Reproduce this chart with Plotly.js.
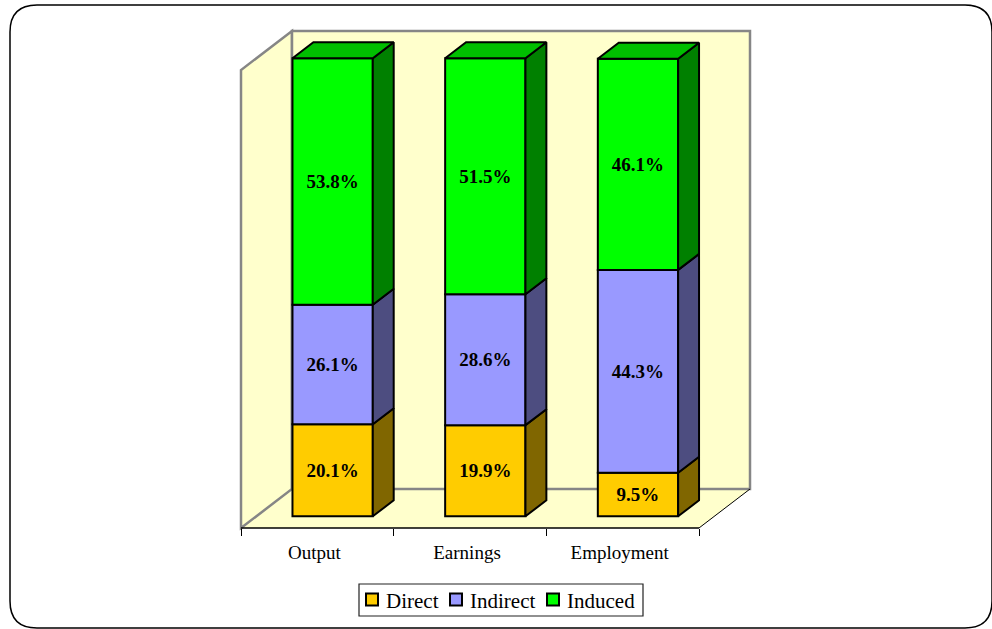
<!DOCTYPE html>
<html><head><meta charset="utf-8">
<style>html,body{margin:0;padding:0;background:#fff}#c{width:992px;height:629px}</style>
<script src="https://cdn.plot.ly/plotly-3.0.1.min.js"></script>
</head><body><div id="c"></div>
<script>
const categories = ['Output', 'Earnings', 'Employment'];
const seriesNames = ['Direct', 'Indirect', 'Induced'];
const direct = [20.1, 19.9, 9.5];
const indirect = [26.1, 28.6, 44.3];
const induced = [53.8, 51.5, 46.1];
const frontColors = ['#FFCC00', '#9999FF', '#00FF00'];
const sideColors = ['#806600', '#4D4D80', '#008000'];
const topColor = '#00BF00';

const W = 992, H = 629;
const L = 241, R = 750, T = 31, B = 528;
const xUnit = 152.67, yUnit = 4.58;      // px per category, px per percent
const DX = 51 / xUnit, DY = 39 / yUnit;  // full depth of the oblique projection, in axis units
const d0 = 0.30, d1 = 0.71, barW = 0.526;
const font = 'Liberation Serif, Times New Roman, serif';

const centres = categories.map((_, i) => i + 0.5);
const series = [direct, indirect, induced];
const traces = [];
const cum = categories.map(() => 0);

series.forEach((vals, s) => {
  const bases = vals.map((v, i) => cum[i]);
  traces.push({
    type: 'bar', name: seriesNames[s], showlegend: false, hoverinfo: 'skip',
    x: centres.map(c => c + d0 * DX),
    y: vals, base: bases.map(b => b + d0 * DY), width: barW,
    marker: {color: frontColors[s], line: {color: '#000', width: 2}},
    text: vals.map(v => v.toFixed(1) + '%'),
    textposition: 'inside', insidetextanchor: 'middle', textangle: 0,
    insidetextfont: {family: font, size: 19, color: '#000', weight: 'bold'}
  });
  vals.forEach((v, i) => {
    const xr = centres[i] + barW / 2;
    const b = bases[i], t = b + v;
    traces.push({
      type: 'scatter', mode: 'lines', showlegend: false, hoverinfo: 'skip', cliponaxis: false,
      x: [xr + d0 * DX, xr + d1 * DX, xr + d1 * DX, xr + d0 * DX, xr + d0 * DX],
      y: [b + d0 * DY, b + d1 * DY, t + d1 * DY, t + d0 * DY, b + d0 * DY],
      fill: 'toself', fillcolor: sideColors[s],
      line: {color: '#000', width: 2}
    });
    cum[i] += v;
  });
});
// top faces of the stacks
categories.forEach((_, i) => {
  const xl = centres[i] - barW / 2, xr = centres[i] + barW / 2, t = cum[i];
  traces.push({
    type: 'scatter', mode: 'lines', showlegend: false, hoverinfo: 'skip', cliponaxis: false,
    x: [xl + d0 * DX, xl + d1 * DX, xr + d1 * DX, xr + d0 * DX, xl + d0 * DX],
    y: [t + d0 * DY, t + d1 * DY, t + d1 * DY, t + d0 * DY, t + d0 * DY],
    fill: 'toself', fillcolor: topColor,
    line: {color: '#000', width: 2}
  });
});

// page pixels -> paper coordinates
const px = x => (x - L) / (R - L);
const py = y => (B - y) / (B - T);
const poly = pts => 'M' + pts.map(p => px(p[0]) + ',' + py(p[1])).join(' L') + ' Z';
const paper = {xref: 'paper', yref: 'paper', layer: 'below'};
const wallFill = '#FFFFCC', wallLine = {color: '#868686', width: 2.5};

function rounded(x0, y0, x1, y1, r) {
  const P = (x, y) => px(x) + ',' + py(y);
  return 'M' + P(x0 + r, y0) + ' L' + P(x1 - r, y0) + ' Q' + P(x1, y0) + ' ' + P(x1, y0 + r) +
    ' L' + P(x1, y1 - r) + ' Q' + P(x1, y1) + ' ' + P(x1 - r, y1) +
    ' L' + P(x0 + r, y1) + ' Q' + P(x0, y1) + ' ' + P(x0, y1 - r) +
    ' L' + P(x0, y0 + r) + ' Q' + P(x0, y0) + ' ' + P(x0 + r, y0) + ' Z';
}

const shapes = [
  {...paper, type: 'path', path: rounded(10, 5, 992, 628, 27), fillcolor: '#fff', line: {color: '#000', width: 1.5}},
  {...paper, type: 'path', path: poly([[241, 528], [292, 489], [750, 489], [699, 528]]), fillcolor: wallFill, line: {width: 0}},
  {...paper, type: 'path', path: poly([[241, 528], [292, 489], [292, 31], [241, 70]]), fillcolor: wallFill, line: wallLine},
  {...paper, type: 'path', path: poly([[292, 489], [292, 31], [750, 31], [750, 489]]), fillcolor: wallFill, line: wallLine},
  {...paper, type: 'line', x0: px(241), y0: py(528), x1: px(699), y1: py(528), line: {color: '#000', width: 1.5}},
  {...paper, type: 'line', x0: px(699), y0: py(528), x1: px(750), y1: py(489), line: {color: '#000', width: 1}},
  // legend box
  {...paper, type: 'rect', x0: px(359), y0: py(584), x1: px(643), y1: py(616), fillcolor: '#fff', line: {color: '#222', width: 1.2}}
];

const swatchLeft = [366, 450, 547], textLeft = [385, 469, 566];
const annotations = [];
seriesNames.forEach((n, s) => {
  shapes.push({...paper, type: 'rect', x0: px(swatchLeft[s]), x1: px(swatchLeft[s] + 12), y0: py(593.5), y1: py(605.5),
    fillcolor: frontColors[s], line: {color: '#000', width: 2}});
  annotations.push({xref: 'paper', yref: 'paper', x: px(textLeft[s] - 1), y: py(600.5), text: n, showarrow: false,
    xanchor: 'left', yanchor: 'middle', font: {family: font, size: 21, color: '#000'}});
});

const layout = {
  width: W, height: H, margin: {l: L, r: W - R, t: T, b: H - B},
  paper_bgcolor: '#fff', plot_bgcolor: 'rgba(0,0,0,0)',
  barmode: 'overlay', showlegend: false, shapes, annotations,
  xaxis: {
    range: [0, (R - L) / xUnit], showgrid: false, zeroline: false, showline: false,
    tickmode: 'array', tickvals: centres, ticktext: categories,
    ticks: 'outside', ticklen: 7, tickcolor: 'rgba(0,0,0,0)', ticklabelshift: -3,
    tickfont: {family: font, size: 19, color: '#000'},
    minor: {tickmode: 'array', tickvals: [0, 1, 2, 3], ticks: 'outside', ticklen: 7, tickwidth: 1, tickcolor: '#000', showgrid: false}
  },
  yaxis: {range: [0, (B - T) / yUnit], visible: false, fixedrange: true}
};
Plotly.newPlot('c', traces, layout, {displayModeBar: false, staticPlot: true});
</script></body></html>
